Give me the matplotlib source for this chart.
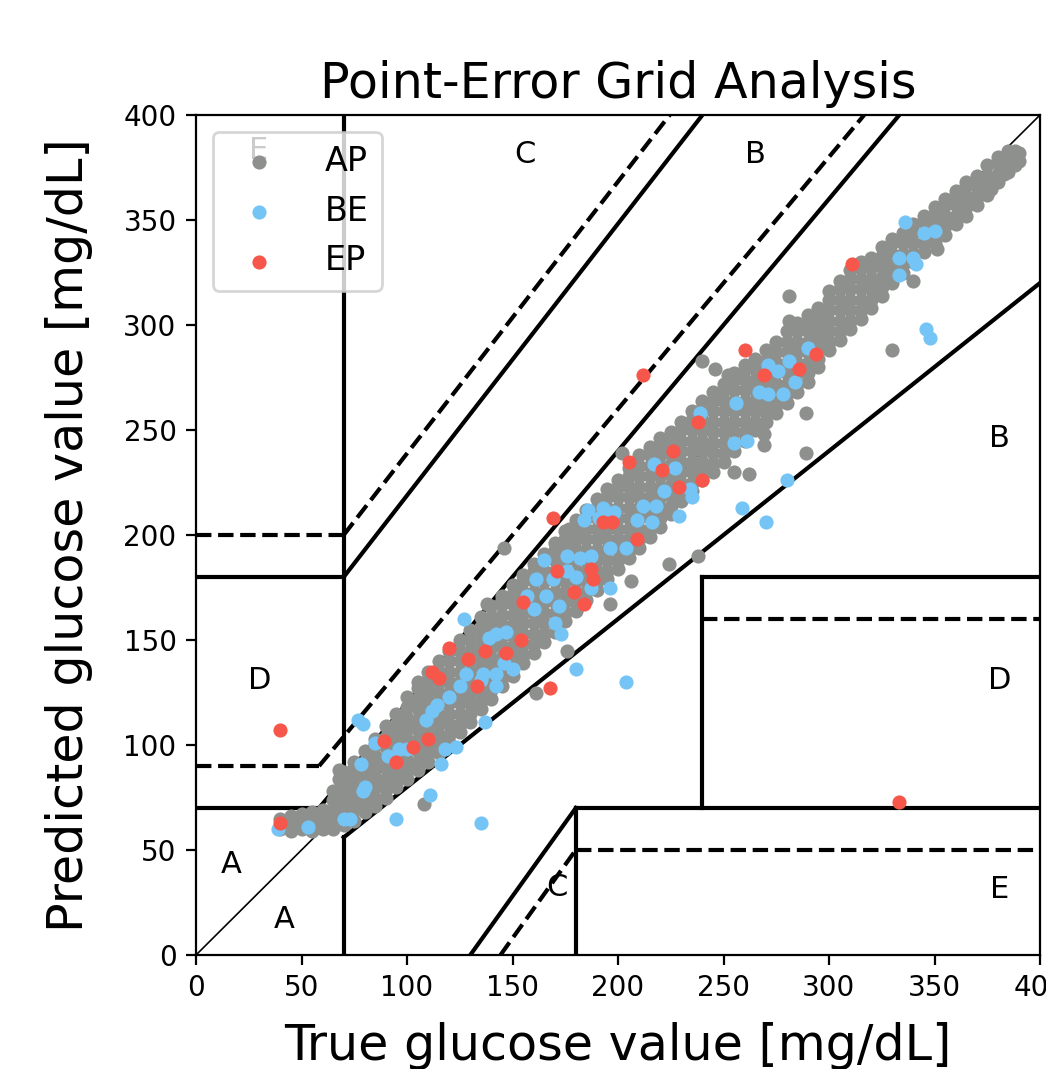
import matplotlib.pyplot as plt

# -----------------------------
# Data (true vs predicted glucose, mg/dL)
# -----------------------------

# AP (grey) main band, written per true-value column: (true, [predicted values])
ap_columns = [
    (40, [60, 65]),
    (45, [59, 62, 66]),
    (50, [60, 64, 67]),
    (55, [59, 63, 68]),
    (60, [60, 65, 69]),
    (65, [60, 64, 69, 74, 78]),
    (68, [84, 88]),
    (70, [62, 67, 72, 77, 82, 87]),
    (75, [64, 69, 74, 79, 84, 89, 92]),
    (80, [68, 72, 77, 82, 87, 92, 97]),
    (85, [71, 75, 80, 85, 90, 95, 100, 103]),
    (90, [75, 79, 84, 89, 94, 99, 104, 109]),
    (95, [80, 85, 90, 95, 100, 105, 110, 115]),
    (100, [84, 88, 93, 98, 103, 108, 113, 118, 123]),
    (105, [88, 92, 97, 102, 107, 112, 117, 122, 127, 130]),
    (110, [92, 96, 101, 106, 111, 116, 121, 126, 131, 135]),
    (115, [96, 100, 105, 110, 115, 120, 125, 130, 135, 140]),
    (120, [101, 105, 110, 115, 120, 125, 130, 135, 140, 145]),
    (125, [106, 110, 115, 120, 125, 130, 135, 140, 145, 150]),
    (130, [111, 115, 120, 125, 130, 135, 140, 145, 150, 155]),
    (135, [117, 121, 126, 131, 136, 141, 146, 151, 156, 161]),
    (140, [122, 126, 131, 136, 141, 146, 151, 156, 161, 166]),
    (145, [128, 132, 137, 142, 147, 152, 157, 162, 167, 171]),
    (150, [133, 137, 142, 147, 152, 157, 162, 167, 172, 176]),
    (155, [139, 143, 148, 153, 158, 163, 168, 173, 178, 181]),
    (160, [144, 148, 153, 158, 163, 168, 173, 178, 183, 186]),
    (165, [149, 153, 158, 163, 168, 173, 178, 183, 188, 191]),
    (170, [154, 158, 163, 168, 173, 178, 183, 188, 193, 196]),
    (175, [159, 163, 168, 173, 178, 183, 188, 193, 198, 202]),
    (180, [164, 168, 173, 178, 183, 188, 193, 198, 203, 207]),
    (185, [169, 173, 178, 183, 188, 193, 198, 203, 208, 212]),
    (190, [174, 178, 183, 188, 193, 198, 203, 208, 213, 217]),
    (195, [179, 183, 188, 193, 198, 203, 208, 213, 218, 222]),
    (200, [184, 188, 193, 198, 203, 208, 213, 218, 223, 226]),
    (205, [189, 193, 198, 203, 208, 213, 218, 223, 228, 232]),
    (210, [194, 198, 203, 208, 213, 218, 223, 228, 233, 238]),
    (215, [199, 203, 208, 213, 218, 223, 228, 233, 238, 242]),
    (220, [204, 208, 213, 218, 223, 228, 233, 238, 243, 246]),
    (225, [210, 214, 219, 224, 229, 234, 239, 244, 249]),
    (230, [216, 220, 225, 230, 235, 240, 245, 250, 254]),
    (235, [221, 225, 230, 235, 240, 245, 250, 255, 259]),
    (240, [226, 230, 235, 240, 245, 250, 255, 260, 264]),
    (245, [230, 234, 239, 244, 249, 254, 259, 264, 268]),
    (250, [235, 239, 244, 249, 254, 259, 264, 269, 272]),
    (255, [240, 244, 249, 254, 259, 264, 269, 274, 277]),
    (260, [245, 249, 254, 259, 264, 269, 274, 279, 281]),
    (265, [250, 254, 259, 264, 269, 274, 279, 284]),
    (270, [254, 258, 263, 268, 273, 278, 283, 288]),
    (275, [258, 262, 267, 272, 277, 282, 287, 292]),
    (280, [263, 267, 272, 277, 282, 287, 292, 297]),
    (285, [268, 272, 277, 282, 287, 292, 297, 301]),
    (290, [273, 277, 282, 287, 292, 297, 302, 305]),
    (295, [280, 284, 289, 294, 299, 304, 308]),
    (300, [288, 292, 297, 302, 307, 312, 316]),
    (305, [293, 297, 302, 307, 312, 317, 321]),
    (310, [298, 302, 307, 312, 317, 322, 326]),
    (315, [303, 307, 312, 317, 322, 327, 330]),
    (320, [308, 312, 317, 322, 327, 332]),
    (325, [314, 318, 323, 328, 333, 337]),
    (330, [320, 324, 329, 334, 339, 341]),
    (335, [325, 329, 334, 339, 344]),
    (340, [330, 334, 339, 344, 348]),
    (345, [335, 339, 344, 349, 352]),
    (350, [339, 343, 348, 353, 356]),
    (355, [343, 347, 352, 357, 360]),
    (360, [348, 352, 357, 362, 364]),
    (365, [352, 356, 361, 366, 368]),
    (370, [357, 361, 366, 371]),
    (375, [362, 366, 371, 376]),
    (380, [368, 372, 377, 380]),
    (385, [373, 377, 381, 383]),
    (388, [376, 380, 383]),
    (390, [378, 382]),
]

# AP points lying off the main band
ap_scatter = [
    (146, 194), (145, 169), (138, 167), (177, 203), (178, 198), (161, 125),
    (176, 145), (196, 167), (206, 178), (224, 186), (238, 190), (108, 72),
    (281, 314), (281, 302), (240, 283), (246, 279), (252, 276), (248, 267),
    (202, 239), (206, 230), (289, 239), (289, 258), (269, 248), (269, 243),
    (255, 230), (262, 229), (330, 288), (340, 321), (351, 336), (363, 354),
    (377, 365), (383, 372), (370, 362),
]

# BE (blue) points
be_points = [
    (39, 60), (53, 61), (70, 65), (73, 65), (79, 78), (80, 80), (78, 91),
    (77, 112), (79, 110), (85, 101), (91, 95), (96, 98), (100, 98), (95, 65),
    (109, 112), (112, 116), (114, 119), (116, 91), (118, 98), (111, 76),
    (135, 63), (137, 111), (123, 99), (127, 160), (186, 212), (193, 213),
    (198, 211), (184, 207), (191, 208), (196, 209), (209, 207), (204, 194),
    (196, 194), (165, 188), (176, 190), (182, 189), (187, 190), (161, 179),
    (169, 179), (180, 180), (176, 183), (196, 175), (187, 175), (157, 171),
    (166, 171), (172, 166), (160, 165), (170, 158), (173, 153), (142, 153),
    (147, 154), (139, 151), (146, 139), (150, 136), (142, 134), (128, 134),
    (125, 128), (135, 131), (136, 134), (120, 123), (142, 128), (180, 136),
    (204, 130), (290, 289), (281, 283), (271, 281), (276, 278), (284, 273),
    (267, 268), (271, 267), (278, 267), (256, 263), (239, 258), (255, 244),
    (261, 245), (217, 234), (227, 232), (222, 221), (234, 222), (235, 218),
    (212, 214), (218, 214), (229, 209), (216, 206), (280, 226), (259, 213),
    (270, 206), (336, 349), (345, 344), (350, 345), (333, 332), (340, 332),
    (341, 329), (333, 324), (346, 298), (348, 294),
]

# EP (red) points
ep_points = [
    (40, 107), (40, 63), (89, 102), (103, 99), (110, 103), (95, 92),
    (112, 135), (115, 132), (205, 235), (169, 208), (193, 206), (197, 206),
    (209, 198), (187, 184), (188, 179), (179, 173), (184, 167), (171, 183),
    (155, 168), (154, 150), (147, 144), (137, 145), (129, 141), (120, 146),
    (133, 128), (168, 127), (260, 288), (212, 276), (269, 276), (238, 254),
    (226, 240), (221, 231), (229, 223), (240, 226), (311, 329), (294, 286),
    (286, 279), (333, 73),
]

# Error-grid zone boundaries: (x pair, y pair)
solid_lines = [
    ([0, 58.33], [70, 70]),
    ([58.33, 333.33], [70, 400]),
    ([70, 70], [84, 400]),
    ([0, 70], [180, 180]),
    ([70, 240], [180, 400]),
    ([70, 70], [0, 56]),
    ([70, 400], [56, 320]),
    ([130, 180], [0, 70]),
    ([180, 180], [0, 70]),
    ([180, 400], [70, 70]),
    ([240, 240], [70, 180]),
    ([240, 400], [180, 180]),
]
dashed_lines = [
    ([0, 58.33], [90, 90]),
    ([58.33, 316.67], [90, 400]),
    ([0, 70], [200, 200]),
    ([70, 224.5], [200, 400]),
    ([144.3, 180], [0, 50]),
    ([180, 400], [50, 50]),
    ([240, 400], [160, 160]),
]
zone_labels = [
    ("A", 16.6, 43), ("A", 42, 16.7), ("C", 156, 381), ("B", 265, 381),
    ("B", 381, 246), ("D", 30, 130.5), ("D", 381, 130.5), ("E", 381, 31),
    ("C", 171, 32), ("E", 29.5, 383),
]

# -----------------------------
# Build the point arrays
# -----------------------------
ap_x = [x for x, ys in ap_columns for y in ys] + [p[0] for p in ap_scatter]
ap_y = [y for x, ys in ap_columns for y in ys] + [p[1] for p in ap_scatter]
be_x = [p[0] for p in be_points]
be_y = [p[1] for p in be_points]
ep_x = [p[0] for p in ep_points]
ep_y = [p[1] for p in ep_points]

# -----------------------------
# Plot
# -----------------------------
fig = plt.figure(figsize=(5.23, 5.345), dpi=200)
ax = fig.add_axes([196 / 1046, 114 / 1069, 844 / 1046, 840 / 1069])

ax.plot([0, 400], [0, 400], color="black", lw=0.6, zorder=1)
for xs, ys in solid_lines:
    ax.plot(xs, ys, color="black", lw=1.5, zorder=1)
for xs, ys in dashed_lines:
    ax.plot(xs, ys, color="black", lw=1.5, ls="--", zorder=1)

ax.scatter(ap_x, ap_y, s=26, color="#8e908e", linewidths=0, label="AP", zorder=2)
ax.scatter(be_x, be_y, s=26, color="#74c5f6", linewidths=0, label="BE", zorder=3)
ax.scatter(ep_x, ep_y, s=26, color="#f7564a", linewidths=0, label="EP", zorder=4)

for txt, x, y in zone_labels:
    ax.text(x, y, txt, fontsize=11, ha="center", va="center")

ax.set_xlim(0, 400)
ax.set_ylim(0, 400)
ax.set_xticks(range(0, 401, 50))
ax.set_yticks(range(0, 401, 50))
ax.tick_params(labelsize=10)
ax.set_title("Point-Error Grid Analysis", fontsize=17.7)
ax.set_xlabel("True glucose value [mg/dL]", fontsize=17.7, labelpad=7)
ax.set_ylabel("Predicted glucose value [mg/dL]", fontsize=17.7, labelpad=11)
ax.legend(loc="upper left", fontsize=12, handletextpad=0.95)

fig.savefig("out.png", dpi=200)
